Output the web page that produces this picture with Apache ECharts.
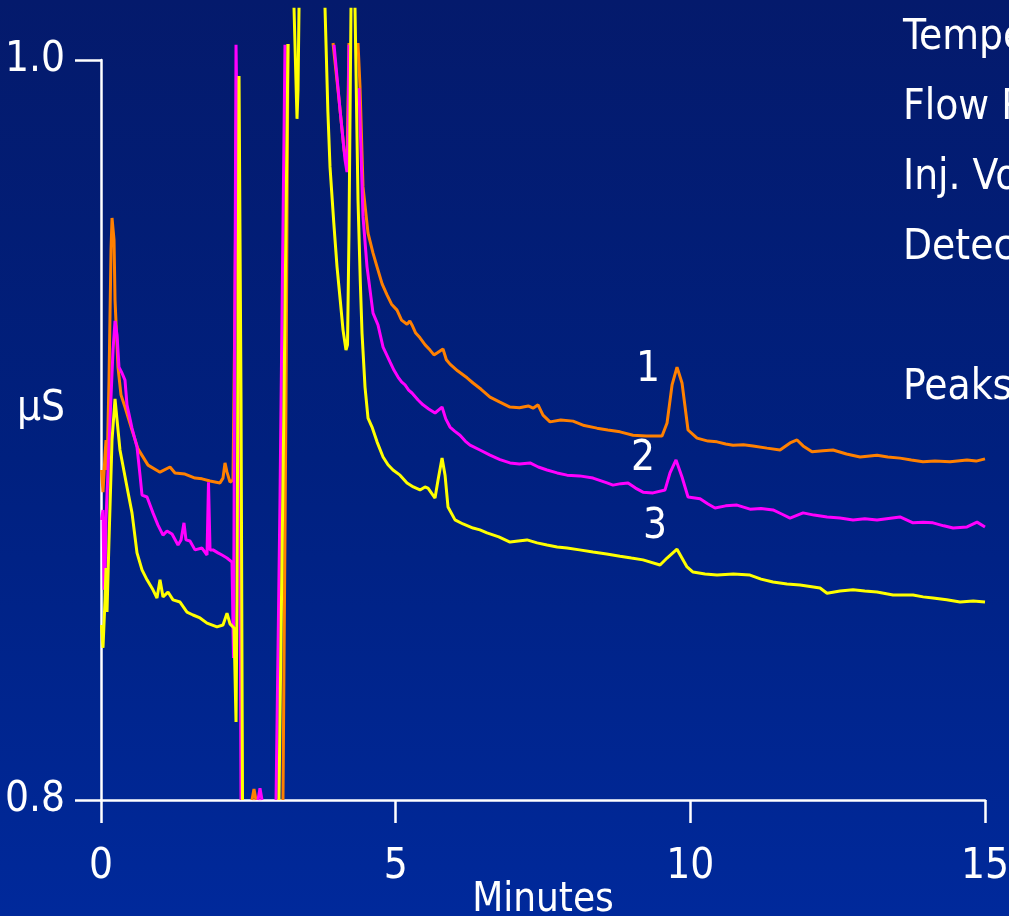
<!DOCTYPE html>
<html>
<head>
<meta charset="utf-8">
<script src="https://cdn.jsdelivr.net/npm/echarts@6/dist/echarts.min.js"></script>
<style>
html,body{margin:0;padding:0;background:#00217f;}
#chart{width:1009px;height:916px;}
</style>
</head>
<body>
<div id="chart"></div>
<script>
// ---- data (time in minutes, conductivity in µS) ----
var xTicks = [0, 5, 10, 15];
var yTicks = [0.8, 1.0];
var xTitle = 'Minutes';
var yTitle = 'µS';
var sideNotes = ['Temperature:', 'Flow Rate:', 'Inj. Volume:', 'Detection:', '', 'Peaks:'];
var peakNames = ['1', '2', '3'];
var peakLabelPos = [[9.282, 0.9162], [9.197, 0.8922], [9.401, 0.8738]];

var trace1 = [
 [0.008,0.8892],[0.034,0.8832],[0.068,0.8932],[0.085,0.8973],[0.102,0.8892],[0.136,0.9135],[0.170,0.9486],[0.187,0.9573],
 [0.221,0.9514],[0.238,0.9351],[0.288,0.9170],[0.339,0.9095],[0.407,0.9062],[0.526,0.9000],[0.628,0.8949],[0.798,0.8905],
 [1.001,0.8886],[1.171,0.8900],[1.256,0.8884],[1.425,0.8881],[1.595,0.8870],[1.714,0.8868],[1.850,0.8862],[2.019,0.8857],
 [2.070,0.8870],[2.104,0.8911],[2.138,0.8886],[2.189,0.8859],[2.240,0.8865],[2.274,0.9351],[2.299,0.9865],[2.325,0.9838],
 [2.359,0.8946],[2.393,0.8],'-',
 [2.562,0.8],[2.596,0.8030],[2.630,0.8],'-',
 [3.088,0.8],[3.139,0.9081],[3.173,1.0043],'-',
 [3.937,1.0046],[4.039,0.9892],[4.124,0.9757],[4.174,0.9716],[4.208,1.0046],'-',
 [4.361,1.0046],[4.395,0.9927],[4.446,0.9657],[4.531,0.9532],[4.616,0.9478],[4.684,0.9441],[4.770,0.9395],[4.853,0.9365],
 [4.930,0.9340],[5.023,0.9324],[5.100,0.9297],[5.193,0.9286],[5.240,0.9295],[5.277,0.9284],[5.340,0.9262],[5.413,0.9249],
 [5.500,0.9230],[5.583,0.9216],[5.650,0.9203],[5.702,0.9208],[5.803,0.9219],[5.860,0.9190],[5.922,0.9178],[6.050,0.9160],
 [6.211,0.9141],[6.313,0.9127],[6.450,0.9110],[6.601,0.9089],[6.760,0.9076],[6.940,0.9062],[7.100,0.9060],[7.250,0.9065],
 [7.331,0.9059],[7.416,0.9068],[7.500,0.9040],[7.619,0.9022],[7.800,0.9027],[8.009,0.9024],[8.200,0.9012],[8.416,0.9005],
 [8.600,0.9000],[8.807,0.8995],[9.028,0.8986],[9.250,0.8984],[9.520,0.8984],[9.605,0.9019],[9.690,0.9122],[9.774,0.9170],
 [9.859,0.9127],[9.961,0.9000],[10.114,0.8978],[10.300,0.8970],[10.453,0.8968],[10.600,0.8962],[10.725,0.8959],[10.900,0.8960],
 [11.064,0.8957],[11.300,0.8951],[11.522,0.8946],[11.692,0.8965],[11.811,0.8973],[11.913,0.8957],[12.065,0.8941],[12.250,0.8944],
 [12.421,0.8946],[12.650,0.8935],[12.880,0.8927],[13.168,0.8932],[13.350,0.8927],[13.558,0.8924],[13.750,0.8919],[13.948,0.8914],
 [14.150,0.8916],[14.407,0.8914],[14.695,0.8919],[14.850,0.8916],[15.000,0.8922]
];

var trace2 = [
 [0.008,0.8757],[0.034,0.8784],[0.051,0.8568],[0.068,0.8608],[0.085,0.8757],[0.119,0.8892],[0.153,0.9027],[0.204,0.9216],
 [0.238,0.9295],[0.272,0.9257],[0.305,0.9170],[0.356,0.9154],[0.407,0.9135],[0.441,0.9068],[0.526,0.9005],[0.611,0.8954],
 [0.662,0.8878],[0.696,0.8824],[0.781,0.8819],[0.882,0.8776],[0.967,0.8743],[1.052,0.8716],[1.120,0.8727],[1.205,0.8719],
 [1.307,0.8689],[1.358,0.8703],[1.408,0.8749],[1.442,0.8703],[1.510,0.8700],[1.595,0.8676],[1.714,0.8681],[1.799,0.8662],
 [1.824,0.8859],[1.850,0.8676],[1.901,0.8676],[1.985,0.8668],[2.053,0.8662],[2.138,0.8654],[2.223,0.8643],[2.248,0.8384],
 [2.265,0.9081],[2.291,1.0041],[2.325,0.9622],[2.350,0.8946],[2.376,0.8],'-',
 [2.664,0.8],[2.698,0.8032],[2.732,0.8],'-',
 [2.970,0.8],[3.037,0.8811],[3.122,1.0041],'-',
 [3.954,1.0041],[4.056,0.9865],[4.141,0.9730],[4.174,0.9697],[4.191,0.9784],[4.208,1.0041],'-',
 [4.378,0.9924],[4.446,0.9576],[4.514,0.9441],[4.616,0.9316],[4.700,0.9284],[4.786,0.9224],[4.904,0.9184],[4.970,0.9162],
 [5.040,0.9143],[5.100,0.9130],[5.159,0.9122],[5.220,0.9108],[5.277,0.9100],[5.380,0.9081],[5.464,0.9068],[5.560,0.9057],
 [5.668,0.9046],[5.787,0.9062],[5.850,0.9030],[5.922,0.9008],[6.000,0.8997],[6.092,0.8986],[6.180,0.8970],[6.262,0.8959],
 [6.430,0.8946],[6.601,0.8932],[6.770,0.8920],[6.940,0.8911],[7.100,0.8908],[7.280,0.8911],[7.420,0.8900],[7.568,0.8892],
 [7.740,0.8884],[7.908,0.8878],[8.120,0.8876],[8.349,0.8870],[8.586,0.8857],[8.688,0.8851],[8.820,0.8855],[8.943,0.8857],
 [9.070,0.8843],[9.197,0.8832],[9.367,0.8830],[9.571,0.8838],[9.655,0.8884],[9.757,0.8919],[9.859,0.8873],[9.961,0.8819],
 [10.165,0.8814],[10.300,0.8800],[10.419,0.8789],[10.600,0.8795],[10.792,0.8797],[11.013,0.8786],[11.200,0.8788],[11.403,0.8784],
 [11.550,0.8773],[11.692,0.8762],[11.913,0.8776],[12.100,0.8770],[12.320,0.8765],[12.540,0.8762],[12.761,0.8757],[12.960,0.8760],
 [13.168,0.8757],[13.558,0.8765],[13.779,0.8749],[13.950,0.8751],[14.118,0.8749],[14.300,0.8741],[14.458,0.8735],[14.695,0.8738],
 [14.865,0.8751],[15.000,0.8738]
];

var trace3 = [
 [0.008,0.8473],[0.034,0.8411],[0.068,0.8541],[0.085,0.8627],[0.102,0.8508],[0.136,0.8703],[0.187,0.8973],[0.238,0.9084],
 [0.272,0.9027],[0.322,0.8946],[0.441,0.8846],[0.526,0.8776],[0.611,0.8668],[0.696,0.8622],[0.781,0.8595],[0.882,0.8568],
 [0.950,0.8546],[1.001,0.8595],[1.052,0.8549],[1.137,0.8562],[1.222,0.8541],[1.341,0.8535],[1.459,0.8508],[1.561,0.8500],
 [1.680,0.8492],[1.799,0.8478],[1.968,0.8468],[2.070,0.8473],[2.138,0.8505],[2.189,0.8476],[2.257,0.8465],[2.291,0.8211],
 [2.308,0.8541],[2.342,0.9957],[2.376,0.9081],[2.401,0.8],'-',
 [3.020,0.8],[3.105,0.9081],[3.173,1.0043],'-',
 [3.275,1.0141],[3.317,0.9892],[3.326,0.9841],[3.343,0.9919],[3.360,1.0141],'-',
 [3.801,1.0141],[3.850,0.9860],[3.886,0.9711],[3.950,0.9560],[4.005,0.9441],[4.060,0.9350],[4.107,0.9270],[4.157,0.9216],
 [4.183,0.9230],[4.208,0.9532],[4.242,1.0141],'-',
 [4.310,1.0141],[4.361,0.9622],[4.400,0.9400],[4.429,0.9262],[4.480,0.9116],[4.531,0.9032],[4.599,0.9008],[4.684,0.8968],
 [4.786,0.8927],[4.870,0.8906],[4.955,0.8892],[5.074,0.8878],[5.193,0.8857],[5.300,0.8846],[5.413,0.8838],[5.498,0.8846],
 [5.549,0.8843],[5.668,0.8816],[5.719,0.8865],[5.787,0.8924],[5.838,0.8878],[5.888,0.8792],[6.007,0.8757],[6.143,0.8746],
 [6.313,0.8735],[6.430,0.8730],[6.550,0.8722],[6.750,0.8711],[6.940,0.8697],[7.080,0.8700],[7.229,0.8703],[7.400,0.8695],
 [7.568,0.8689],[7.740,0.8684],[7.908,0.8681],[8.120,0.8676],[8.349,0.8670],[8.580,0.8665],[8.807,0.8659],[9.000,0.8654],
 [9.197,0.8649],[9.486,0.8635],[9.605,0.8654],[9.774,0.8678],[9.944,0.8630],[10.046,0.8616],[10.250,0.8611],[10.453,0.8608],
 [10.730,0.8611],[11.013,0.8608],[11.200,0.8597],[11.403,0.8589],[11.640,0.8584],[11.862,0.8581],[12.201,0.8573],[12.320,0.8559],
 [12.540,0.8565],[12.761,0.8568],[12.960,0.8565],[13.168,0.8562],[13.440,0.8554],[13.779,0.8554],[13.950,0.8549],[14.118,0.8546],
 [14.350,0.8541],[14.577,0.8535],[14.800,0.8538],[15.000,0.8535]
];

var seriesColors = ['#ff8000', '#ff00ff', '#ffff00'];

// ---- styles ----
var FONT = "'Liberation Sans Narrow', 'Arial Narrow', 'DejaVu Sans Condensed', sans-serif";
var shadow = { textShadowColor: '#000010', textShadowOffsetX: 2, textShadowOffsetY: 2, textShadowBlur: 0 };
function txt(size) {
  return Object.assign({ color: '#ffffff', fontFamily: FONT, fontSize: size }, shadow);
}

var chart = echarts.init(document.getElementById('chart'), null, { renderer: 'canvas' });

var traces = [trace1, trace2, trace3];
var series = traces.map(function (d, i) {
  return {
    type: 'line',
    name: 'Peak ' + peakNames[i],
    data: d,
    showSymbol: false,
    symbol: 'none',
    clip: false,
    connectNulls: false,
    lineStyle: { color: seriesColors[i], width: 3 },
    itemStyle: { color: seriesColors[i] },
    z: 2 + i,
    markPoint: {
      symbol: 'rect',
      symbolSize: 1,
      itemStyle: { color: 'transparent' },
      label: Object.assign({ show: true, position: 'inside', formatter: '{b}' }, txt(42)),
      data: [{ name: peakNames[i], coord: peakLabelPos[i] }]
    }
  };
});

var graphics = [];
sideNotes.forEach(function (s, i) {
  if (!s) return;
  graphics.push({
    type: 'text',
    left: 903,
    top: 17 + i * 70,
    style: {
      text: s, fill: '#ffffff', font: '42px ' + FONT,
      textShadowColor: '#000010', textShadowOffsetX: 2, textShadowOffsetY: 2
    }
  });
});

chart.setOption({
  animation: false,
  backgroundColor: {
    type: 'linear', x: 0, y: 0, x2: 0, y2: 1,
    colorStops: [
      { offset: 0, color: '#041a6c' },
      { offset: 0.5, color: '#00207f' },
      { offset: 1, color: '#00299b' }
    ]
  },
  grid: { left: 101, right: 24, top: 60, bottom: 116, containLabel: false, outerBoundsMode: 'none' },
  xAxis: {
    type: 'value', min: xTicks[0], max: xTicks[xTicks.length - 1], interval: 5,
    name: xTitle, nameLocation: 'middle', nameGap: 81, nameMoveOverlap: false,
    nameTextStyle: txt(40),
    axisLine: { show: true, onZero: false, lineStyle: { color: '#ffffff', width: 2.5 } },
    axisTick: { show: true, inside: false, length: 23, lineStyle: { color: '#ffffff', width: 2.5 } },
    splitLine: { show: false },
    axisLabel: Object.assign({ margin: 46, hideOverlap: false, formatter: function (v) { return String(v); } }, txt(42))
  },
  yAxis: {
    type: 'value', min: yTicks[0], max: yTicks[1], interval: 0.2,
    name: yTitle, nameLocation: 'middle', nameRotate: 0, nameGap: 36, nameMoveOverlap: false,
    nameTextStyle: Object.assign({ align: 'right', verticalAlign: 'bottom' }, txt(42)),
    axisLine: { show: true, onZero: false, lineStyle: { color: '#ffffff', width: 2.5 } },
    axisTick: { show: true, inside: false, length: 26, lineStyle: { color: '#ffffff', width: 2.5 } },
    splitLine: { show: false },
    axisLabel: Object.assign({ margin: 36, formatter: function (v) { return v.toFixed(1); } }, txt(42))
  },
  graphic: graphics,
  series: series
});
</script>
</body>
</html>
